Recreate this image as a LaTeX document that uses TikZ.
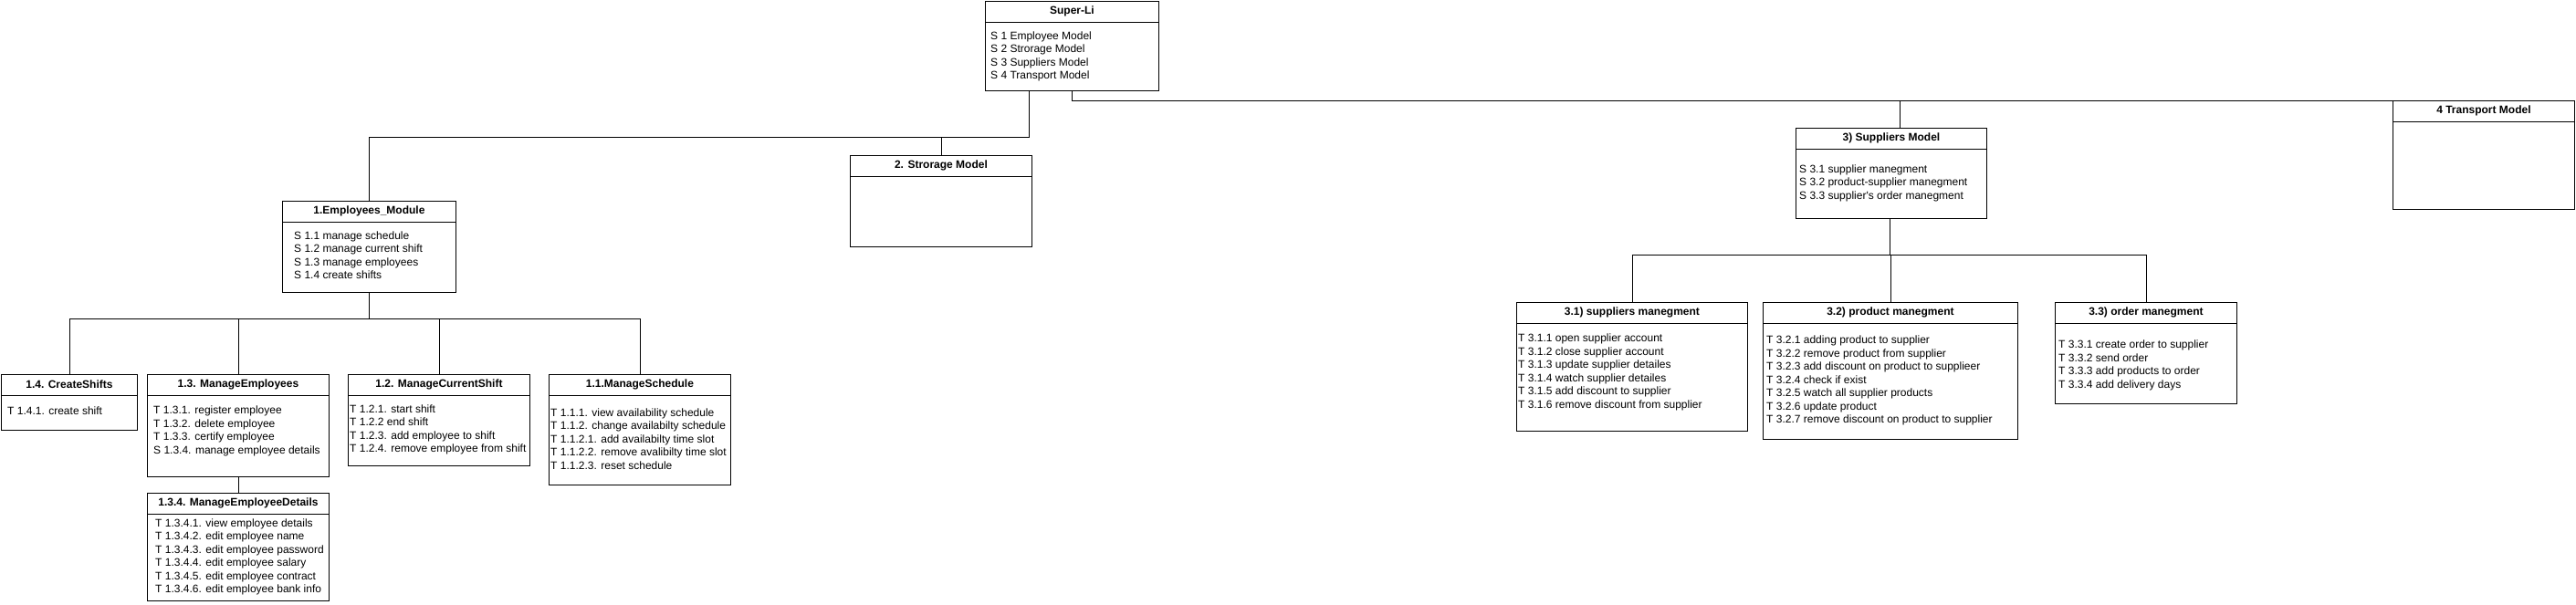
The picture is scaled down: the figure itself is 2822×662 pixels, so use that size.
\documentclass[tikz,border=0pt]{standalone}
\usepackage{fontspec}
\setmainfont{Liberation Sans}
\usepackage{tikz}

\tikzset{
	box/.style={draw, line width=0.9pt, rectangle, inner sep=0pt, anchor=north west},
	boxtitle/.style={font=\bfseries\fontsize{12}{14.5}\selectfont, inner sep=0pt},
	boxtext/.style={font=\fontsize{12}{14.5}\selectfont, align=left, inner sep=0pt, anchor=north west},
	link/.style={line width=0.9pt}
}

\begin{document}
\begin{tikzpicture}[x=1pt, y=-1pt]
		\fill[white] (0,0) rectangle (2822,662);
		\node[box, minimum width=190pt, minimum height=98pt] (super) at (1079,1) {};
		\node[box, minimum width=190pt, minimum height=100pt] (emp) at (309,220) {};
		\node[box, minimum width=199pt, minimum height=100pt] (storage) at (931,170) {};
		\node[box, minimum width=209pt, minimum height=99pt] (suppliers) at (1967,140) {};
		\node[box, minimum width=199pt, minimum height=119pt] (transport) at (2621,110) {};
		\node[box, minimum width=149pt, minimum height=61pt] (shifts) at (1,410) {};
		\node[box, minimum width=199pt, minimum height=112pt] (employees) at (161,410) {};
		\node[box, minimum width=199pt, minimum height=118pt] (details) at (161,540) {};
		\node[box, minimum width=199pt, minimum height=100pt] (curshift) at (381,410) {};
		\node[box, minimum width=199pt, minimum height=121pt] (schedule) at (601,410) {};
		\node[box, minimum width=253pt, minimum height=141pt] (supman) at (1661,331) {};
		\node[box, minimum width=279pt, minimum height=150pt] (prodman) at (1931,331) {};
		\node[box, minimum width=199pt, minimum height=111pt] (ordman) at (2251,331) {};
		\foreach \n in {super,emp,storage,suppliers,transport,shifts,employees,details,curshift,schedule,supman,prodman,ordman}
			\draw[link] ([yshift=-23pt]\n.north west) -- ([yshift=-23pt]\n.north east);

		\node[boxtitle] (supert) at ([yshift=-11.5pt]super.north) {Super-Li};
		\node[boxtitle] (empt) at ([yshift=-11.5pt]emp.north) {1.Employees\_Module};
		\node[boxtitle] (storaget) at ([yshift=-11.5pt]storage.north) {2. Strorage Model};
		\node[boxtitle] (supplierst) at ([yshift=-11.5pt]suppliers.north) {3) Suppliers Model};
		\node[boxtitle] (transportt) at ([yshift=-11.5pt]transport.north) {4 Transport Model};
		\node[boxtitle] (shiftst) at ([yshift=-11.5pt]shifts.north) {1.4. CreateShifts};
		\node[boxtitle] (employeest) at ([yshift=-11.5pt]employees.north) {1.3. ManageEmployees};
		\node[boxtitle] (detailst) at ([yshift=-11.5pt]details.north) {1.3.4. ManageEmployeeDetails};
		\node[boxtitle] (curshiftt) at ([yshift=-11.5pt]curshift.north) {1.2. ManageCurrentShift};
		\node[boxtitle] (schedulet) at ([yshift=-11.5pt]schedule.north) {1.1.ManageSchedule};
		\node[boxtitle] (supmant) at ([yshift=-11.5pt]supman.north) {3.1) suppliers manegment};
		\node[boxtitle] (prodmant) at ([yshift=-11.5pt]prodman.north) {3.2) product manegment};
		\node[boxtitle] (ordmant) at ([yshift=-11.5pt]ordman.north) {3.3) order manegment};

		\node[boxtext] (superb) at (1085,34.5) {S 1 Employee Model\\S 2 Strorage Model\\S 3 Suppliers Model\\S 4 Transport Model};
		\node[boxtext] (empb) at (322,253.5) {S 1.1 manage schedule\\S 1.2 manage current shift\\S 1.3 manage employees\\S 1.4 create shifts};
		\node[boxtext] (suppliersb) at (1971,180.5) {S 3.1 supplier manegment\\S 3.2 product-supplier manegment\\S 3.3 supplier\textquotesingle s order manegment};
		\node[boxtext] (shiftsb) at (8,445.5) {T 1.4.1. create shift};
		\node[boxtext] (employeesb) at (168,445) {T 1.3.1. register employee\\T 1.3.2. delete employee\\T 1.3.3. certify employee\\S 1.3.4. manage employee details};
		\node[boxtext] (detailsb) at (170,568.5) {T 1.3.4.1. view employee details\\T 1.3.4.2. edit employee name\\T 1.3.4.3. edit employee password\\T 1.3.4.4. edit employee salary\\T 1.3.4.5. edit employee contract\\T 1.3.4.6. edit employee bank info};
		\node[boxtext] (curshiftb) at (383,443.5) {T 1.2.1. start shift\\T 1.2.2 end shift\\T 1.2.3. add employee to shift\\T 1.2.4. remove employee from shift};
		\node[boxtext] (scheduleb) at (603,447.5) {T 1.1.1. view availability schedule\\T 1.1.2. change availabilty schedule\\T 1.1.2.1. add availabilty time slot\\T 1.1.2.2. remove avalibilty time slot\\T 1.1.2.3. reset schedule};
		\node[boxtext] (supmanb) at (1663,366) {T 3.1.1 open supplier account\\T 3.1.2 close supplier account\\T 3.1.3 update supplier detailes\\T 3.1.4 watch supplier detailes\\T 3.1.5 add discount to supplier\\T 3.1.6 remove discount from supplier};
		\node[boxtext] (prodmanb) at (1935,368) {T 3.2.1 adding product to supplier\\T 3.2.2 remove product from supplier\\T 3.2.3 add discount on product to supplieer\\T 3.2.4 check if exist\\T 3.2.5 watch all supplier products\\T 3.2.6 update product\\T 3.2.7 remove discount on product to supplier};
		\node[boxtext] (ordmanb) at (2255,373) {T 3.3.1 create order to supplier\\T 3.3.2 send order\\T 3.3.3 add products to order\\T 3.3.4 add delivery days};

		\coordinate (b1) at (1127,150);
		\coordinate (b2) at (1174,110);
		\coordinate (b3) at (405,349);
		\coordinate (b4) at (2070,279);
		\coordinate (s0) at (2081,110);
		\draw[link] (super.south -| b1) -- (b1) -- (b1 -| emp) -- (emp.north);
		\draw[link] (b1 -| storage) -- (storage.north);
		\draw[link] (super.south -| b2) -- (b2) -- (transport.north west);
		\draw[link] (s0) -- (s0 |- suppliers.north);
		\draw[link] (emp.south) -- (emp.south |- b3);
		\draw[link] (b3 -| shifts) -- (b3 -| schedule);
		\foreach \n in {shifts,employees,curshift,schedule}
			\draw[link] (b3 -| \n) -- (\n.north);
		\draw[link] (employees.south) -- (details.north);
		\draw[link] (suppliers.south -| b4) -- (b4);
		\draw[link] (b4 -| supman) -- (b4 -| ordman);
		\foreach \n in {supman,prodman,ordman}
			\draw[link] (b4 -| \n) -- (\n.north);
\end{tikzpicture}
\end{document}
